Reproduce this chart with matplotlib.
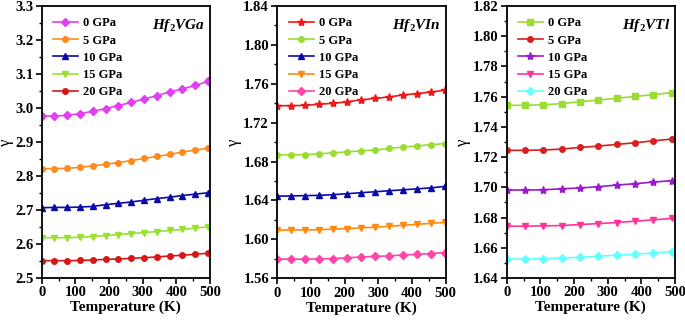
import matplotlib
matplotlib.use("Agg")
import matplotlib.pyplot as plt
from matplotlib.ticker import MultipleLocator, AutoMinorLocator

plt.rcParams['font.family'] = ['Liberation Serif', 'DejaVu Serif']
plt.rcParams['font.weight'] = 'bold'
plt.rcParams['mathtext.fontset'] = 'custom'
plt.rcParams['mathtext.rm'] = 'Liberation Serif'
plt.rcParams['mathtext.it'] = 'Liberation Serif:italic:bold'
plt.rcParams['mathtext.bf'] = 'Liberation Serif:bold'

labels = ["0 GPa", "5 GPa", "10 GPa", "15 GPa", "20 GPa"]

# Panel 1: Hf2VGa
T1 = [0, 38, 76, 114, 152, 190, 228, 266, 304, 342, 380, 418, 456, 494]
g1_0 = [2.976, 2.976, 2.978, 2.983, 2.990, 2.998, 3.007, 3.016, 3.026, 3.036, 3.047, 3.056, 3.066, 3.078]
g1_5 = [2.821, 2.821, 2.822, 2.825, 2.829, 2.834, 2.839, 2.845, 2.851, 2.857, 2.863, 2.870, 2.876, 2.881]
g1_10 = [2.706, 2.707, 2.707, 2.708, 2.710, 2.715, 2.719, 2.723, 2.728, 2.733, 2.737, 2.742, 2.746, 2.750]
g1_15 = [2.618, 2.618, 2.618, 2.619, 2.621, 2.624, 2.627, 2.630, 2.633, 2.636, 2.639, 2.642, 2.646, 2.650]
g1_20 = [2.550, 2.550, 2.550, 2.551, 2.552, 2.554, 2.555, 2.557, 2.559, 2.561, 2.564, 2.566, 2.569, 2.572]

# Panel 2: Hf2VIn
T2 = [0, 41.5, 83, 124.5, 166, 207.5, 249, 290.5, 332, 373.5, 415, 456.5, 498]
g2_0 = [1.7375, 1.7375, 1.7378, 1.7390, 1.7400, 1.7415, 1.7435, 1.7450, 1.7465, 1.7485, 1.7500, 1.7515, 1.7535]
g2_5 = [1.6870, 1.6870, 1.6872, 1.6880, 1.6890, 1.6900, 1.6910, 1.6920, 1.6935, 1.6950, 1.6960, 1.6975, 1.6985]
g2_10 = [1.6445, 1.6447, 1.6450, 1.6453, 1.6460, 1.6470, 1.6480, 1.6490, 1.6500, 1.6510, 1.6520, 1.6530, 1.6545]
g2_15 = [1.6095, 1.6097, 1.6097, 1.6100, 1.6105, 1.6110, 1.6120, 1.6125, 1.6135, 1.6145, 1.6155, 1.6165, 1.6175]
g2_20 = [1.5797, 1.5797, 1.5797, 1.5800, 1.5803, 1.5810, 1.5820, 1.5825, 1.5830, 1.5840, 1.5845, 1.5855, 1.5865]

# Panel 3: Hf2VTl
T3 = [0, 54.5, 109, 163.5, 218, 272.5, 327, 381.5, 436, 490.5]
g3_0 = [1.7543, 1.7543, 1.7546, 1.7554, 1.7567, 1.7578, 1.7589, 1.7602, 1.7613, 1.7627]
g3_5 = [1.7245, 1.7245, 1.7247, 1.7253, 1.7264, 1.7273, 1.7284, 1.7295, 1.7308, 1.7319]
g3_10 = [1.6982, 1.6982, 1.6984, 1.6990, 1.6996, 1.7004, 1.7015, 1.7024, 1.7035, 1.7044]
g3_15 = [1.6743, 1.6743, 1.6745, 1.6747, 1.6754, 1.6760, 1.6767, 1.6776, 1.6785, 1.6794]
g3_20 = [1.6526, 1.6526, 1.6528, 1.6533, 1.6537, 1.6544, 1.6551, 1.6557, 1.6566, 1.6575]

panels = [
    dict(T=T1, ys=[g1_0, g1_5, g1_10, g1_15, g1_20],
         colors=['#E040F0', '#FF8A1C', '#0B0BA8', '#99E030', '#D81818'],
         markers=['D', 'o', '^', 'v', 'o'],
         ylim=(2.5, 3.3), ymaj=0.1, fmt='%.1f', title=r'$Hf_2VGa$',
         rect=[41.7, 6, 210.0, 277.7]),
    dict(T=T2, ys=[g2_0, g2_5, g2_10, g2_15, g2_20],
         colors=['#F01818', '#99DD33', '#0B0BA8', '#FF8A10', '#FF44AA'],
         markers=['*', 'o', '^', 'v', 'D'],
         ylim=(1.56, 1.84), ymaj=0.04, fmt='%.2f', title=r'$Hf_2VIn$',
         rect=[277.3, 6, 445.7, 278.3]),
    dict(T=T3, ys=[g3_0, g3_5, g3_10, g3_15, g3_20],
         colors=['#99DD33', '#D82020', '#9A1ACD', '#FF3399', '#66FFFF'],
         markers=['s', 'o', '*', 'v', 'D'],
         ylim=(1.64, 1.82), ymaj=0.02, fmt='%.2f', title=r'$Hf_2VTl$',
         rect=[506.7, 6, 675.0, 278.0]),
]

W, H = 685, 321
fig = plt.figure(figsize=(W / 100, H / 100), dpi=100)

for p in panels:
    l, t, r, b = p['rect']
    ax = fig.add_axes([l / W, 1 - b / H, (r - l) / W, (b - t) / H])
    for y, c, m, lab in zip(p['ys'], p['colors'], p['markers'], labels):
        ms = 6 if m == '*' else 4
        ax.plot(p['T'], y, color=c, marker=m, markersize=ms, lw=1.2, label=lab)
    ax.set_xlim(0, 500)
    ax.set_ylim(*p['ylim'])
    ax.xaxis.set_major_locator(MultipleLocator(100))
    ax.xaxis.set_minor_locator(AutoMinorLocator(2))
    ax.yaxis.set_major_locator(MultipleLocator(p['ymaj']))
    ax.yaxis.set_minor_locator(AutoMinorLocator(2))
    ax.yaxis.set_major_formatter(matplotlib.ticker.FormatStrFormatter(p['fmt']))
    ax.tick_params(axis='both', which='major', direction='out', length=4, width=1.2,
                   labelsize=10.5, pad=2)
    ax.tick_params(axis='both', which='minor', direction='out', length=2, width=1)
    for lbl in ax.get_xticklabels() + ax.get_yticklabels():
        lbl.set_fontweight('bold')
    for s in ax.spines.values():
        s.set_linewidth(1.3)
    ax.set_xlabel('Temperature (K)', fontsize=11, fontweight='bold', labelpad=1)
    ax.set_ylabel('γ', fontsize=12, fontweight='normal', labelpad=1)
    leg = ax.legend(loc='upper left', frameon=False, fontsize=9, handlelength=2.0,
                    handletextpad=0.4, labelspacing=0.42, borderaxespad=0.5,
                    bbox_to_anchor=(0.0, 1.0))
    for txt in leg.get_texts():
        txt.set_fontweight('bold')
    ax.text(0.97, 0.96, p['title'], transform=ax.transAxes, ha='right', va='top',
            fontsize=11)

fig.savefig('out.png', dpi=100)
